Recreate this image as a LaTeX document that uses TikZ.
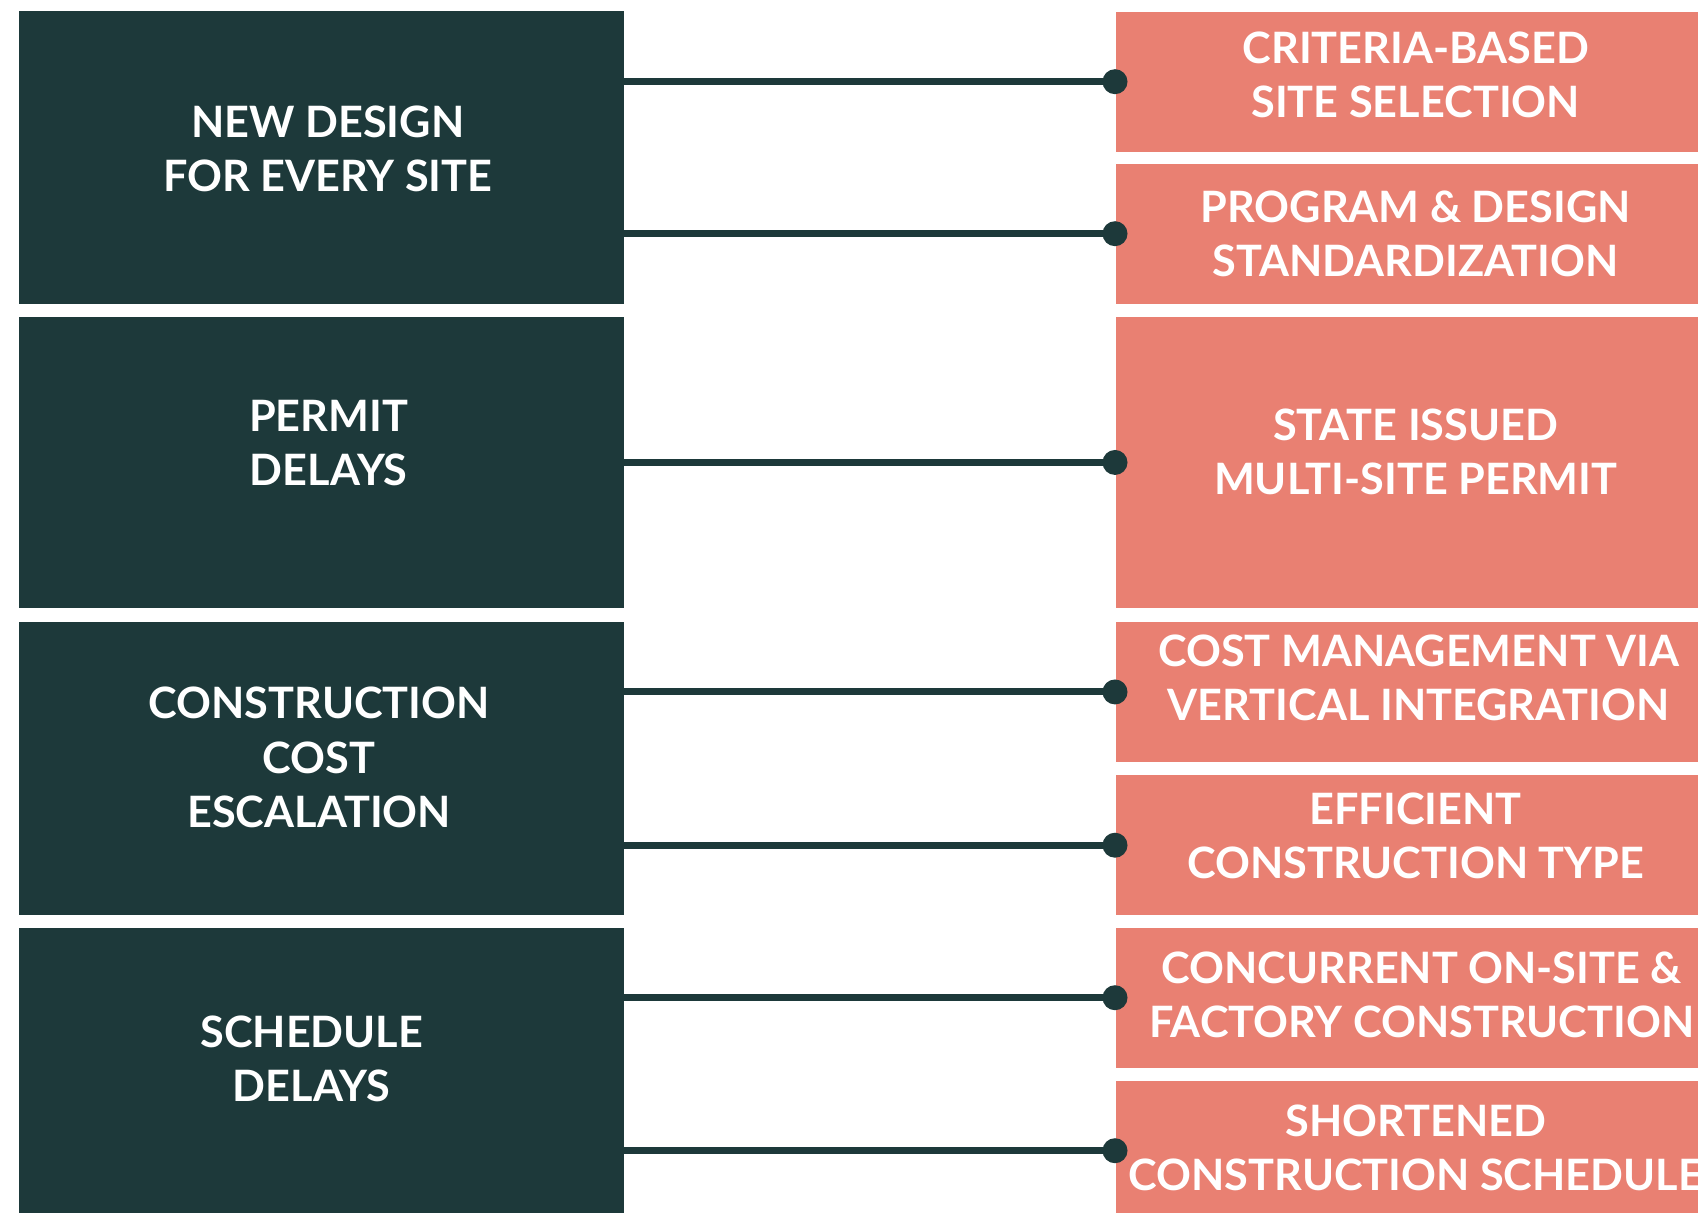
\documentclass[tikz,border=0pt]{standalone}
\usepackage{fontspec}
\setmainfont{Lato}
\usetikzlibrary{positioning}
\definecolor{pinegreen}{HTML}{1D393A}
\definecolor{salmon}{HTML}{E98072}

\begin{document}
\begin{tikzpicture}[font=\fontsize{12.3}{15.4}\selectfont\bfseries,
  problem/.style={fill=pinegreen, inner sep=0pt, anchor=north west, minimum width=6.05cm},
  remedy/.style={fill=salmon, inner sep=0pt, anchor=north west, minimum width=6.0cm},
  caption/.style={text=white, align=center, inner sep=0pt},
  link/.style={draw=pinegreen, line width=2pt}]
  \clip (0,0) rectangle (16.98,-12.13);
  \fill[white] (0,0) rectangle (16.98,-12.13);

  % --- Left column: problems (name/top/height/dx/dy/text) ---
  \foreach \n/\t/\h/\dx/\dy/\txt in {
      prob1/0.10/2.93/0.065/0.087/{NEW DESIGN\\FOR EVERY SITE},
      prob2/3.16/2.915/0.075/0.19/{PERMIT\\DELAYS},
      prob3/6.215/2.925/-0.02/0.11/{CONSTRUCTION\\COST\\ESCALATION},
      prob4/9.27/2.93/-0.095/0.15/{SCHEDULE\\DELAYS}} {
    \node[problem, minimum height=\h cm] (\n) at (0.18,-\t) {};
    \node[caption] at ([xshift=\dx cm, yshift=\dy cm]\n.center) {\txt};
  }

  % --- Right column: remedies ---
  \foreach \n/\t/\h/\dx/\dy/\txt in {
      fix1/0.11/1.40/0/0.07/{CRITERIA-BASED\\SITE SELECTION},
      fix2/1.63/1.40/0/0/{PROGRAM \& DESIGN\\STANDARDIZATION},
      fix3/3.16/2.915/0/0.11/{STATE ISSUED\\MULTI-SITE PERMIT},
      fix4/6.215/1.395/0.03/0.14/{COST MANAGEMENT VIA\\VERTICAL INTEGRATION},
      fix5/7.745/1.40/0/0.09/{EFFICIENT\\CONSTRUCTION TYPE},
      fix6/9.27/1.40/0.06/0.025/{CONCURRENT ON-SITE \&\\FACTORY CONSTRUCTION},
      fix7/10.80/1.40/0/0.03/{SHORTENED\\CONSTRUCTION SCHEDULE}} {
    \node[remedy, minimum height=\h cm] (\n) at (11.15,-\t) {};
    \node[caption] at ([xshift=\dx cm, yshift=\dy cm]\n.center) {\txt};
  }

  % connectors with a dot on the remedy edge
  \foreach \a/\b in {prob1/fix1, prob1/fix2, prob2/fix3, prob3/fix4, prob3/fix5, prob4/fix6, prob4/fix7} {
    \draw[link] (\a.east |- \b.west) -- (\b.west);
    \fill[pinegreen] (\b.west) circle (0.125);
  }
\end{tikzpicture}
\end{document}
